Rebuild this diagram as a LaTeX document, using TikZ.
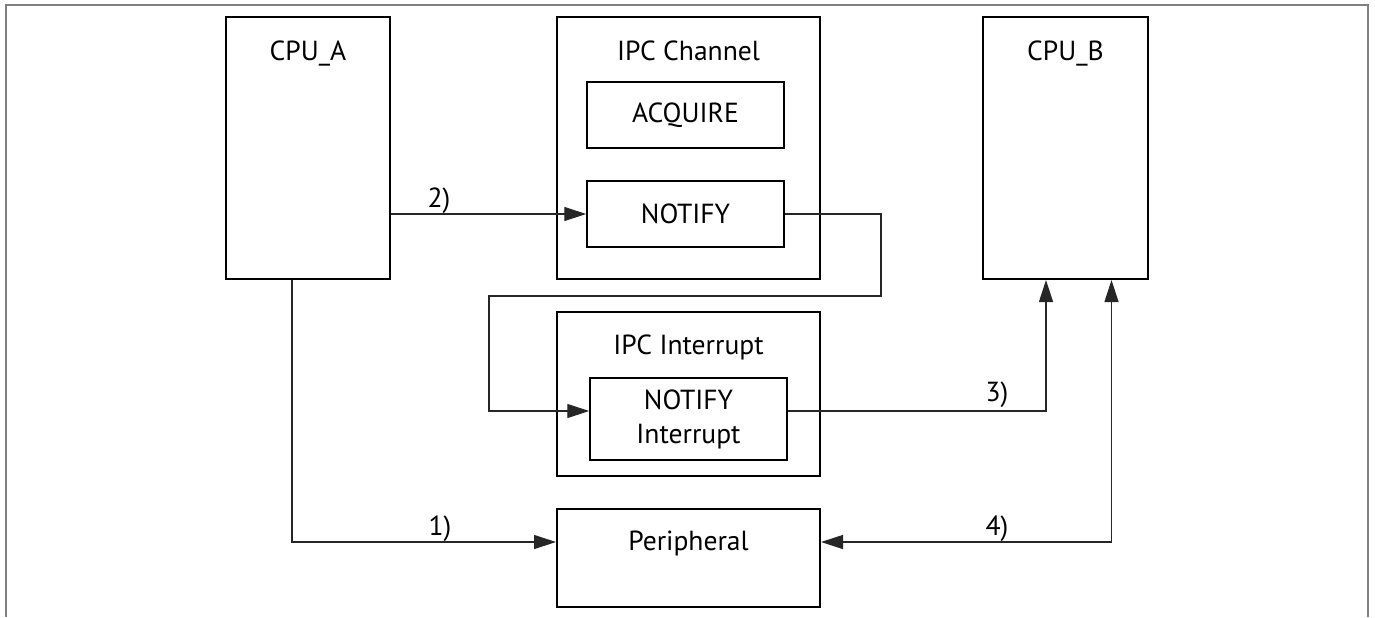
\documentclass[tikz,border=0pt]{standalone}
\usepackage{fontspec}
\setmainfont{PT Sans}
\usetikzlibrary{positioning,calc,arrows.meta}
\tikzset{blk/.style={draw,line width=1pt,inner sep=0pt,font=\fontsize{13.8}{17}\selectfont,align=center}  }
\tikzset{inblk/.style={blk,line width=0.75pt}  }
\tikzset{txt/.style={inner sep=0pt,font=\fontsize{13.8}{17}\selectfont,anchor=base}  }
\tikzset{conn/.style={draw=black!85,line width=0.6pt}  }
\tikzset{>={Triangle[length=11pt,width=7pt]}}

\begin{document}
\begin{tikzpicture}[x=0.5pt,y=-0.5pt]
	\useasboundingbox (0,0) rectangle (1375,617);
	\draw[gray,line width=1pt] (6,617) -- (6,5) -- (1368,5) -- (1368,617);

		\node[blk,minimum width=82pt,minimum height=131pt] (cpua) at (308,148) {};
		\node[blk,minimum width=131.5pt,minimum height=131pt] (chan) at (688.5,148) {};
		\node[blk,minimum width=82.5pt,minimum height=131pt] (cpub) at (1065.5,148) {};
			\node[inblk,minimum width=98.5pt,minimum height=33pt] (acq) at (685.5,115) {ACQUIRE};
			\node[inblk,minimum width=98.5pt,minimum height=33pt] (ntf) at (685.5,214) {NOTIFY};
		\node[blk,minimum width=131.5pt,minimum height=82pt] (irq) at (688.5,394) {};
			\node[inblk,minimum width=98.5pt,minimum height=41pt] (nirq) at (688.5,419) {NOTIFY\\Interrupt};
		\node[blk,minimum width=131.5pt,minimum height=49pt] (per) at (688.5,558) {};

		\node[txt] (cpuat) at (308,60) {CPU\_A};
		\node[txt] (chant) at (688.5,60) {IPC Channel};
		\node[txt] (cpubt) at (1065.5,60) {CPU\_B};
		\node[txt] (irqt) at (688.5,354) {IPC Interrupt};
		\node[txt] (pert) at (688.5,550) {Peripheral};

		\coordinate (k1) at (881,296);
		\coordinate (k2) at (489,296);

		\draw[conn,->] ([xshift=-8pt]cpua.south) |- ([yshift=8pt]per.west);
		\draw[conn,->] (ntf.west -| cpua.east) -- (ntf.west);
		\draw[conn,->] (ntf.east) -| (k1) -- (k2) |- ([yshift=4pt]nirq.west);
		\draw[conn,->] ([yshift=4pt]nirq.east) -| ([xshift=-9.75pt]cpub.south);
		\draw[conn,<->] ([yshift=8pt]per.east) -| ([xshift=23pt]cpub.south);

		\node[txt] (l1) at (440,535) {1)};
		\node[txt] (l2) at (439,207) {2)};
		\node[txt] (l3) at (997,401.5) {3)};
		\node[txt] (l4) at (997,535) {4)};
\end{tikzpicture}
\end{document}
